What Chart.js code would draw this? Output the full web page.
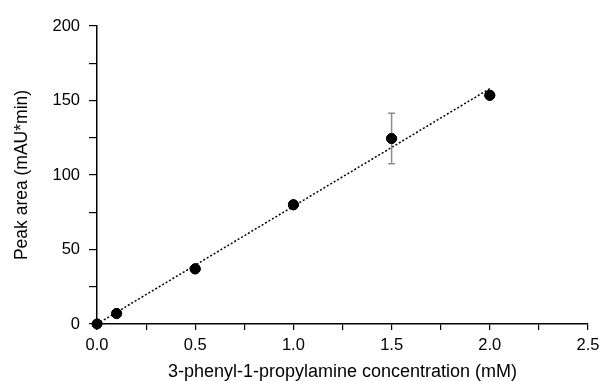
<!DOCTYPE html>
<html>
<head>
<meta charset="utf-8">
<script src="https://cdn.jsdelivr.net/npm/chart.js@4"></script>
<style>
html,body{margin:0;padding:0;background:#fff;}
#wrap{width:601px;height:381px;}
</style>
</head>
<body>
<div id="wrap"><canvas id="c" width="601" height="381"></canvas></div>
<script>
const concentrations = [0, 0.1, 0.5, 1.0, 1.5, 2.0];
const peakAreas = [0, 7, 37, 80, 124.5, 153.5];
const errors = [0, 0, 0, 0, 17, 1.5];
const trendX = [0, 2.0];
const trendY = [0, 158];
const xTitle = '3-phenyl-1-propylamine concentration (mM)';
const yTitle = 'Peak area (mAU*min)';

const errorBarPlugin = {
  id: 'errorBars',
  afterDatasetsDraw(chart) {
    const ctx = chart.ctx;
    const xs = chart.scales.x, ys = chart.scales.y;
    ctx.save();
    ctx.strokeStyle = '#8c8c8c';
    ctx.lineWidth = 1.5;
    concentrations.forEach((cx, i) => {
      const e = errors[i];
      if (!e) return;
      const px = xs.getPixelForValue(cx);
      const top = ys.getPixelForValue(peakAreas[i] + e);
      const bot = ys.getPixelForValue(peakAreas[i] - e);
      ctx.beginPath();
      ctx.moveTo(px, top); ctx.lineTo(px, bot);
      ctx.moveTo(px - 3.5, top); ctx.lineTo(px + 3.5, top);
      ctx.moveTo(px - 3.5, bot); ctx.lineTo(px + 3.5, bot);
      ctx.stroke();
    });
    ctx.restore();
    const meta = chart.getDatasetMeta(1);
    meta.data.forEach(p => p.draw(ctx, chart.chartArea));
  }
};

const fam = '"Liberation Sans", Arial, sans-serif';

new Chart(document.getElementById('c'), {
  type: 'scatter',
  data: {
    datasets: [
      {
        data: trendX.map((x, i) => ({x: x, y: trendY[i]})),
        showLine: true,
        borderColor: '#000',
        borderWidth: 1.5,
        borderDash: [2, 2],
        pointRadius: 0,
        order: 2
      },
      {
        data: concentrations.map((x, i) => ({x: x, y: peakAreas[i]})),
        backgroundColor: '#000',
        borderColor: '#000',
        pointRadius: 5,
        pointHoverRadius: 5,
        order: 1
      }
    ]
  },
  plugins: [errorBarPlugin],
  options: {
    responsive: false,
    animation: false,
    events: [],
    layout: {padding: {top: 26, right: 13, left: 12, bottom: 0}},
    plugins: {legend: {display: false}, tooltip: {enabled: false}},
    scales: {
      x: {
        type: 'linear',
        min: 0, max: 2.5,
        afterFit: s => { s.height = 57; s.paddingRight = 0; s.paddingLeft = 0; },
        border: {display: true, color: '#000', width: 1.5},
        grid: {display: true, drawOnChartArea: false, drawTicks: true, tickLength: 6, color: '#000', lineWidth: 1.2},
        ticks: {
          stepSize: 0.25,
          autoSkip: false,
          maxRotation: 0,
          color: '#000',
          font: {family: fam, size: 16.5},
          padding: 6,
          callback: v => (Math.abs(v * 2 - Math.round(v * 2)) < 1e-6) ? v.toFixed(1) : ''
        },
        title: {display: true, text: xTitle, color: '#000', font: {family: fam, size: 18, lineHeight: 1.0}, padding: {top: 0, bottom: 0}}
      },
      y: {
        type: 'linear',
        min: 0, max: 200,
        afterFit: s => { s.width = 85; s.paddingTop = 0; s.paddingBottom = 0; },
        border: {display: true, color: '#000', width: 1.5},
        grid: {display: true, drawOnChartArea: false, drawTicks: true, tickLength: 8, color: '#000', lineWidth: 1.2},
        ticks: {
          stepSize: 25,
          autoSkip: false,
          color: '#000',
          font: {family: fam, size: 16.5},
          padding: 9,
          callback: v => (v % 50 === 0) ? String(v) : ''
        },
        title: {display: true, text: yTitle, color: '#000', font: {family: fam, size: 17.5, lineHeight: 1.2}, padding: {top: 0, bottom: 0}}
      }
    }
  }
});
</script>
</body>
</html>
